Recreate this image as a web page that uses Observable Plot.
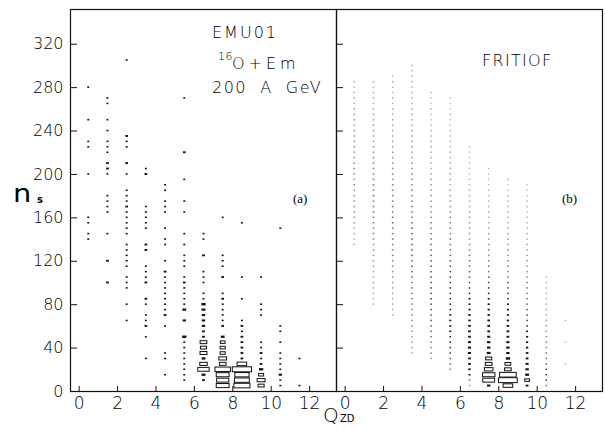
<!DOCTYPE html>
<html><head><meta charset="utf-8">
<script src="https://cdn.jsdelivr.net/npm/d3@7"></script>
<script src="https://cdn.jsdelivr.net/npm/@observablehq/plot@0.6"></script>
<style>
body{margin:0;background:#fff;}
#wrap{position:relative;width:605px;height:430px;font-family:"DejaVu Sans",sans-serif;font-weight:200;color:#000;overflow:hidden;}
.lab{position:absolute;white-space:nowrap;line-height:1;}
.serif{font-family:"Liberation Serif","DejaVu Serif",serif;font-weight:400;}
</style></head><body>
<div id="wrap"><div id="chart"></div>
<div class="lab" style="left:212px;top:25px;font-size:16px;letter-spacing:2px">EMU01</div>
<div class="lab" style="left:218px;top:51px;font-size:11px;letter-spacing:0.5px">16</div>
<div class="lab" style="left:232px;top:56px;font-size:16px;letter-spacing:4px">O+Em</div>
<div class="lab" style="left:212px;top:80px;font-size:16px;letter-spacing:1.5px">200&nbsp;&nbsp;A&nbsp;&nbsp;GeV</div>
<div class="lab" style="left:482px;top:53px;font-size:16px;letter-spacing:1.3px">FRITIOF</div>
<div class="lab serif" style="left:293px;top:192px;font-size:13px">(a)</div>
<div class="lab serif" style="left:562px;top:192px;font-size:13px">(b)</div>
<div class="lab" style="left:13px;top:182px;font-size:24px;font-weight:400;transform:scaleX(1.2);transform-origin:left">n</div>
<div class="lab" style="left:37px;top:195px;font-size:10px;font-weight:700">s</div>
<div class="lab" style="left:323px;top:405px;font-size:20px">Q</div>
<div class="lab" style="left:340px;top:414px;font-size:10px;font-weight:400">ZD</div>
</div>
<script>
// Q_ZD column centres (bins of width 1)
const colQ = [0.5, 1.5, 2.5, 3.5, 4.5, 5.5, 6.5, 7.5, 8.5, 9.5, 10.5, 11.5];
const xTicks = [0, 2, 4, 6, 8, 10, 12];
const yTicks = [0, 40, 80, 120, 160, 200, 240, 280, 320];

// (a) EMU01 data: per Q column, [n_s, events]
const emuCells = [
  [[140,1],[145,1],[155,1],[160,1],[200,1],[225,1],[230,1],[250,1],[280,1]],
  [[100,2],[120,2],[145,1],[165,1],[170,1],[175,1],[180,1],[200,1],[205,2],[210,2],[220,1],[225,1],[230,1],[240,1],[250,1],[265,1],[270,1]],
  [[65,1],[80,1],[95,1],[100,1],[105,1],[115,1],[120,1],[125,1],[130,1],[135,1],[145,1],[150,1],[155,1],[160,1],[165,1],[170,2],[175,1],[180,1],[185,1],[200,1],[210,2],[225,1],[230,1],[235,2],[305,1]],
  [[30,1],[50,1],[60,2],[65,1],[70,1],[80,1],[85,2],[100,2],[105,1],[110,1],[115,1],[130,2],[135,2],[150,1],[155,1],[160,1],[165,1],[170,1],[200,2],[205,1]],
  [[15,1],[30,1],[35,1],[60,1],[70,2],[75,1],[80,1],[85,1],[90,1],[95,1],[100,1],[105,1],[110,2],[120,1],[135,1],[140,1],[150,1],[165,1],[170,1],[175,1],[185,1],[190,1]],
  [[10,1],[15,1],[20,1],[25,1],[30,1],[35,1],[40,1],[45,1],[50,5],[65,3],[75,4],[80,1],[85,1],[90,1],[95,1],[100,2],[105,1],[115,1],[120,1],[125,1],[135,1],[145,1],[165,1],[175,1],[195,1],[220,2],[270,1]],
  [[10,2],[15,4],[20,35],[25,15],[30,4],[35,13],[40,10],[45,12],[50,2],[55,2],[60,3],[65,3],[70,3],[75,4],[80,5],[85,1],[90,1],[100,1],[105,1],[110,1],[125,2],[140,1],[145,1]],
  [[5,45],[10,40],[15,45],[20,65],[25,12],[30,16],[35,7],[40,7],[45,6],[50,4],[60,2],[65,1],[70,1],[75,1],[80,1],[85,2],[90,1],[105,2],[115,1],[120,1],[125,1],[160,1]],
  [[5,70],[10,60],[15,55],[20,100],[25,25],[30,2],[35,2],[40,2],[45,2],[50,2],[55,1],[60,2],[65,1],[85,1],[105,1],[155,1]],
  [[5,10],[10,17],[15,7],[20,5],[25,2],[30,1],[35,2],[40,1],[45,1],[70,1],[75,1],[80,1],[105,1]],
  [[5,1],[10,1],[15,3],[20,1],[25,1],[30,1],[35,1],[45,1],[55,1],[60,1],[150,1]],
  [[5,1],[30,1]]
];

// (b) FRITIOF: lowest n_s bin of each column, then weights in 5-unit n_s bins
const fritStart = [135, 80, 70, 35, 30, 20, 5, 5, 5, 5, 5, 25];
const fritCounts = [
  [0.2,0.2,0.25,0.25,0.3,0.3,0.3,0.35,0.3,0.35,0.35,0.4,0.35,0.35,0.4,0.35,0.35,0.3,0.35,0.3,0.3,0.3,0.25,0.3,0.25,0.25,0.2,0.2,0.2,0.15,0.2],
  [0.2,0.2,0.25,0.2,0.25,0.25,0.3,0.3,0.3,0.35,0.35,0.35,0.4,0.4,0.4,0.45,0.4,0.45,0.45,0.45,0.5,0.45,0.45,0.45,0.4,0.45,0.4,0.4,0.35,0.4,0.35,0.3,0.3,0.3,0.25,0.25,0.25,0.2,0.2,0.2,0.15,0.2],
  [0.2,0.2,0.25,0.25,0.3,0.3,0.3,0.35,0.35,0.4,0.4,0.45,0.45,0.45,0.5,0.5,0.5,0.55,0.5,0.5,0.5,0.45,0.5,0.45,0.45,0.4,0.4,0.4,0.35,0.35,0.35,0.3,0.3,0.3,0.25,0.25,0.25,0.2,0.2,0.2,0.2,0.15,0.15,0.2,0.15],
  [0.2,0.25,0.25,0.3,0.3,0.35,0.35,0.4,0.4,0.45,0.45,0.5,0.5,0.55,0.55,0.6,0.6,0.6,0.65,0.6,0.6,0.6,0.55,0.6,0.55,0.5,0.5,0.5,0.45,0.45,0.45,0.4,0.4,0.4,0.35,0.35,0.35,0.3,0.3,0.3,0.3,0.25,0.25,0.25,0.2,0.2,0.2,0.2,0.15,0.15,0.15,0.15,0.1,0.2],
  [0.3,0.35,0.4,0.45,0.5,0.55,0.6,0.65,0.65,0.7,0.7,0.75,0.7,0.75,0.7,0.7,0.65,0.65,0.6,0.6,0.55,0.55,0.5,0.5,0.45,0.45,0.4,0.4,0.35,0.35,0.35,0.3,0.3,0.3,0.25,0.25,0.25,0.2,0.2,0.2,0.2,0.15,0.15,0.15,0.15,0.1,0.15,0.1,0.1,0.15],
  [0.4,0.5,0.6,0.7,0.8,0.9,0.9,1,1,1,1,0.9,0.9,0.9,0.8,0.8,0.75,0.7,0.7,0.65,0.6,0.6,0.55,0.5,0.5,0.45,0.45,0.4,0.4,0.35,0.35,0.3,0.3,0.3,0.25,0.25,0.25,0.2,0.2,0.2,0.2,0.15,0.15,0.15,0.15,0.1,0.1,0.15,0.1,0.1,0.1],
  [0.3,0.5,1,1.5,2,2,2.5,2.5,2.5,2,2,1.8,1.5,1.5,1.2,1,1,0.9,0.8,0.7,0.6,0.6,0.5,0.5,0.45,0.4,0.4,0.35,0.35,0.3,0.3,0.25,0.25,0.2,0.2,0.2,0.15,0.15,0.15,0.1,0.15,0.1,0.1,0.1,0.15],
  [3,38,42,20,12,10,4,3,3,2.5,2,2,1.8,1.5,1.3,1.2,1,0.9,0.8,0.7,0.6,0.5,0.5,0.45,0.4,0.35,0.35,0.3,0.3,0.25,0.25,0.2,0.2,0.2,0.15,0.15,0.15,0.1,0.1,0.1,0.15],
  [25,95,75,12,9,5,3,3,2.5,2,2,1.8,1.5,1.3,1.2,1,0.9,0.8,0.7,0.6,0.5,0.5,0.45,0.4,0.35,0.35,0.3,0.3,0.25,0.25,0.2,0.2,0.2,0.15,0.15,0.15,0.1,0.1,0.15],
  [2,6,4,3,2.5,2,1.8,1.5,1.3,1.2,1,0.9,0.8,0.7,0.6,0.55,0.5,0.45,0.4,0.4,0.35,0.35,0.3,0.3,0.25,0.25,0.2,0.2,0.2,0.15,0.15,0.15,0.1,0.15,0.1,0.1,0.1,0.1],
  [0.5,0.8,0.8,0.7,0.6,0.5,0.5,0.4,0.4,0.35,0.3,0.3,0.25,0.25,0.2,0.2,0.15,0.15,0.15,0.1,0.15],
  [0.1,0,0,0,0.1,0,0,0,0.15]
];

const cMax = 100;
const cells = [];
emuCells.forEach((col, i) => col.forEach(([ns, c]) => cells.push({panel: "a", q: colQ[i], ns, c})));
fritCounts.forEach((col, i) => col.forEach((c, j) => { if (c > 0) cells.push({panel: "b", q: colQ[i], ns: fritStart[i] + 5 * j, c}); }));

const frac = d => Math.sqrt(Math.max(d.c, 1) / cMax);
const hw = d => frac(d) * 0.5;
const hh = d => Math.sqrt(frac(d)) * 2.5 * 0.92;
const grey = d3.interpolateRgb("#d6d6d6", "#111");
const dotFill = d => d.c >= 1 ? "#111" : grey(d.c);
const dotW = d => d.c >= 1 ? hw(d) : hw(d) * 0.8;

const boxOpts = {
  fx: "panel",
  x1: d => d.q - dotW(d), x2: d => d.q + dotW(d),
  y1: d => d.ns - hh(d), y2: d => d.ns + hh(d)
};

const chart = Plot.plot({
  width: 605, height: 430,
  marginLeft: 69, marginRight: 3, marginTop: 9, marginBottom: 39,
  style: {fontFamily: "DejaVu Sans", fontWeight: 200, background: "white"},
  fx: {domain: ["a", "b"], axis: null, padding: 0},
  x: {domain: [-0.45, 13.4], axis: null},
  y: {domain: [0, 352], axis: null},
  marks: [
    Plot.rect(cells.filter(d => d.c < 6), {...boxOpts, fill: dotFill}),
    Plot.rect(cells.filter(d => d.c >= 6), {...boxOpts, fill: "white", stroke: "#111", strokeWidth: 1}),
    Plot.frame({stroke: "#111", strokeWidth: 1.2}),
    Plot.axisX(xTicks, {anchor: "bottom", tickSize: -5, fill: "none", stroke: "#111", label: null}),
    Plot.axisX(xTicks, {anchor: "bottom", tickSize: 0, tickPadding: 5, fontSize: 17, fill: "#000", label: null}),
    Plot.axisY(yTicks, {anchor: "left", tickSize: -7, fill: "none", stroke: "#111", facetAnchor: null, label: null}),
    Plot.axisY(yTicks, {anchor: "left", tickSize: 0, tickPadding: 7, fontSize: 16, fill: "#000", label: null})
  ]
});
document.getElementById("chart").appendChild(chart);
</script>
</body></html>
